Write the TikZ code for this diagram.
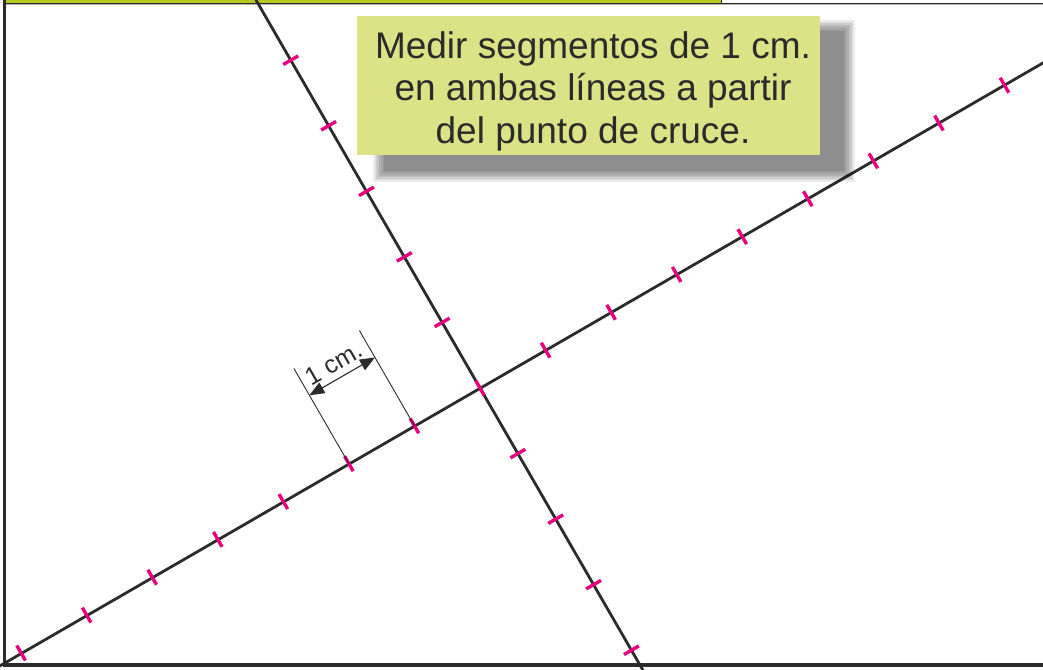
\documentclass[tikz,border=0pt]{standalone}
\usepackage{fontspec}
\setmainfont{Liberation Sans}
\usetikzlibrary{arrows.meta,calc}
\definecolor{ink}{HTML}{2B2B2B}
\definecolor{mag}{RGB}{230,0,126}
\definecolor{notefill}{HTML}{DCE286}
\definecolor{stripgreen}{RGB}{181,201,30}
\tikzset{
 mainline/.style={ink, line width=2.8pt},
 tickmark/.style={mag, line width=3.4pt},
 extline/.style={ink, line width=0.9pt},
 dimarrow/.style={ink, line width=1.1pt, {Triangle[length=15pt,width=12pt]}-{Triangle[length=15pt,width=12pt]}},
 notebox/.style={fill=notefill, minimum width=463pt, minimum height=139pt, inner sep=0pt},
 notetext/.style={text=ink, align=center, font=\fontsize{37}{42.5}\selectfont, inner sep=0pt},
 dimtext/.style={text=ink, font=\fontsize{25}{30}\selectfont, rotate=30, inner sep=0pt},
 frameline/.style={ink, line width=3.2pt},
}
\begin{document}
\begin{tikzpicture}[x=1pt,y=-1pt]
\useasboundingbox (0,0) rectangle (1043,669);
\begin{scope}
\clip (0,0) rectangle (1043,669);
% frame
\fill[stripgreen] (5,0) rectangle (721,2.6);
\draw[ink, line width=0.8pt] (721,0) -- (721,3);
\draw[ink, line width=1.6pt] (5,3.4) -- (1043,3.4);
\draw[gray!60, line width=0.8pt] (5,4.8) -- (1043,4.8);
\draw[frameline] (4.5,0) -- (4.5,667);
\draw[frameline] (3,665) -- (1043,665);
% main lines
\coordinate (C) at (480,388);
\coordinate (LA1) at (-50,694.7);
\coordinate (LA2) at (1100,30);
\coordinate (LB1) at (230,-45);
\coordinate (LB2) at (680,734.4);
\draw[mainline] (LA1) -- (LA2);
\draw[mainline] (LB1) -- (LB2);
% ticks on line A
\foreach \k in {-7,...,8} {
  \coordinate (a\k) at ({480+\k*65.56},{388-\k*37.85});
  \draw[tickmark] ($(a\k)+(-4.3,-7.45)$) -- ($(a\k)+(4.3,7.45)$);
}
% ticks on line B
\foreach \k in {-6,...,-1,1,2,3,4} {
  \coordinate (b\k) at ({480+\k*37.85},{388+\k*65.56});
  \draw[tickmark] ($(b\k)+(-7.45,4.3)$) -- ($(b\k)+(7.45,-4.3)$);
}
\end{scope}
% dimension
\coordinate (e1) at ($(a-2)+(-55,-95.3)$);
\coordinate (e2) at ($(a-1)+(-55,-95.3)$);
\coordinate (d1) at ($(a-2)+(-39.5,-68.4)$);
\coordinate (d2) at ($(a-1)+(-39.5,-68.4)$);
\draw[extline] (a-2) -- (e1);
\draw[extline] (a-1) -- (e2);
\draw[dimarrow] (d1) -- (d2);
\node[dimtext] (dimlabel) at ($(d1)!0.5!(d2)+(-8,-13)$) {1 cm.};
% note shadow
\foreach \i in {0,...,7}
  \fill[black,opacity=0.07] ({373+1.6*\i},{20+1.6*\i}) rectangle ({855-1.6*\i},{182-1.6*\i});
\node[notebox] (note) at (588.5,85.5) {};
\node[notetext] (notetxt) at (593,91) {Medir segmentos de 1 cm.\\en ambas líneas a partir\\del punto de cruce.};
\end{tikzpicture}
\end{document}
